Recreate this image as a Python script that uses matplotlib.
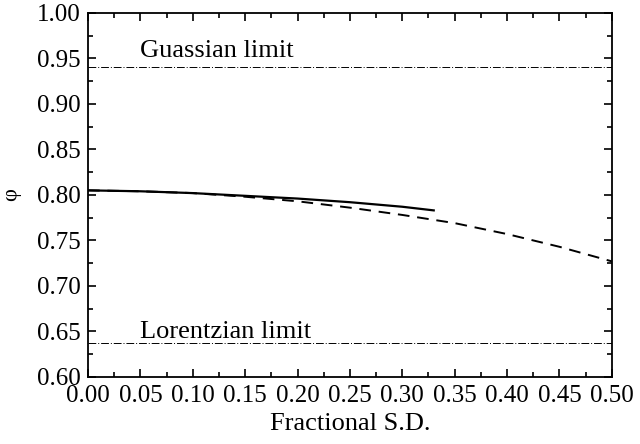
import numpy as np
import matplotlib
matplotlib.use("Agg")
import matplotlib.pyplot as plt
from matplotlib.ticker import MultipleLocator

plt.rcParams['font.family'] = ['Liberation Serif', 'DejaVu Serif']

# data
sd_solid = [0.00, 0.05, 0.10, 0.15, 0.20, 0.25, 0.30, 0.33]
phi_solid = [0.805, 0.804, 0.802, 0.799, 0.796, 0.792, 0.787, 0.783]
sd_dash = [0.00, 0.05, 0.10, 0.15, 0.20, 0.25, 0.30, 0.35, 0.40, 0.45, 0.50]
phi_dash = [0.805, 0.804, 0.802, 0.798, 0.793, 0.786, 0.778, 0.769, 0.757, 0.743, 0.727]
gauss_limit = 0.94
lorentz_limit = 0.637

fig = plt.figure(figsize=(6.4, 4.44), dpi=100)
ax = fig.add_axes([0.1375, 0.151, 0.8185, 0.82])

ax.plot(sd_solid, phi_solid, 'k-', lw=1.6)
ax.plot(sd_dash, phi_dash, 'k--', lw=1.4, dashes=(6, 4))
ax.axhline(gauss_limit, color='k', lw=0.7, ls=(0, (8, 2, 1, 2)))
ax.axhline(lorentz_limit, color='k', lw=0.7, ls=(0, (8, 2, 1, 2)))
ax.text(0.05, 0.951, 'Guassian limit', fontsize=19)
ax.text(0.05, 0.643, 'Lorentzian limit', fontsize=19)

ax.set_xlim(0, 0.5)
ax.set_ylim(0.6, 1.0)
ax.xaxis.set_major_locator(MultipleLocator(0.05))
ax.xaxis.set_minor_locator(MultipleLocator(0.025))
ax.yaxis.set_major_locator(MultipleLocator(0.05))
ax.yaxis.set_minor_locator(MultipleLocator(0.025))
ax.xaxis.set_major_formatter(plt.FormatStrFormatter('%.2f'))
ax.yaxis.set_major_formatter(plt.FormatStrFormatter('%.2f'))
ax.tick_params(which='both', direction='in', top=True, right=True, width=1.2)
ax.tick_params(which='major', length=6, labelsize=18)
ax.tick_params(axis='x', which='major', pad=6)
ax.tick_params(axis='y', which='major', pad=5)
ax.tick_params(which='minor', length=3.5)
for s in ax.spines.values():
    s.set_linewidth(1.3)
ax.set_xlabel('Fractional S.D.', fontsize=19, labelpad=4)
ax.set_ylabel('φ', fontsize=16, labelpad=12)

fig.savefig('out.png', dpi=100)
